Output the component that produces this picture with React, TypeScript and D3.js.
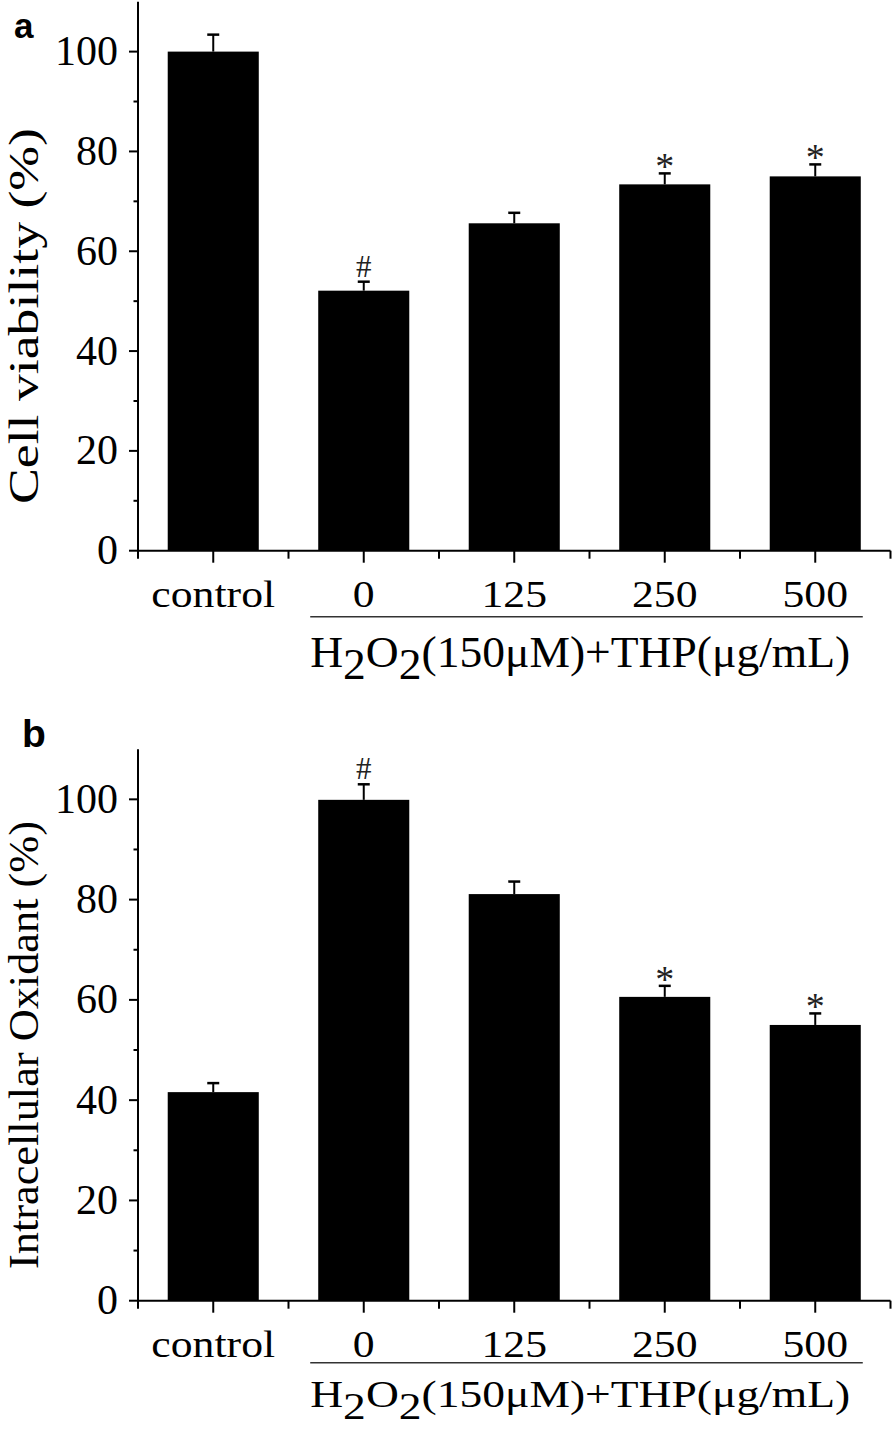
import React from 'react';
import * as d3 from 'd3';

const categories = ['control', '0', '125', '250', '500'];
const viabilityValues = [100, 52.1, 65.6, 73.4, 75.0];
const viabilityErrors = [3.4, 1.8, 2.1, 2.2, 2.4];
const viabilityMarks = ['', '#', '', '*', '*'];
const oxidantValues = [41.6, 99.9, 81.1, 60.6, 55.0];
const oxidantErrors = [1.8, 3.1, 2.5, 2.2, 2.3];
const oxidantMarks = ['', '#', '', '*', '*'];
const yMajorTicks = [0, 20, 40, 60, 80, 100];
const yMinorTicks = [10, 30, 50, 70, 90];
const yDomain: [number, number] = [0, 110];

const SERIF = '"Liberation Serif", "Times New Roman", serif';
const SANS = '"Liberation Sans", Arial, sans-serif';

type PanelProps = {
  letter: string;
  letterX: number;
  letterY: number;
  letterSize: number;
  yTop: number;
  yBottom: number;
  values: number[];
  errors: number[];
  marks: string[];
  yLabel: string;
  yLabelCenter: number;
  yLabelLength?: number;
  groupLineOffset: number;
  groupTextOffset: number;
  groupTextSize: number;
};

function Panel(p: PanelProps) {
  const x = d3.scalePoint<string>().domain(categories).range([138, 890.5]).padding(0.5);
  const step = x.step();
  const barW = step * 0.605;
  const y = d3.scaleLinear().domain(yDomain).range([p.yBottom, p.yTop]);
  const axisX = 138;
  const boundaries = d3.range(categories.length + 1).map((i) => 138 + i * step);
  const groupStart = (x('0') as number) - barW / 2 - 8;
  const groupEnd = (x('500') as number) + barW / 2 + 2;

  return (
    <g>
      <text x={p.letterX} y={p.letterY} fontFamily={SANS} fontWeight="bold" fontSize={p.letterSize}>
        {p.letter}
      </text>
      {categories.map((c, i) => (
        <rect
          key={'b' + c}
          x={(x(c) as number) - barW / 2}
          y={y(p.values[i])}
          width={barW}
          height={y(0) - y(p.values[i])}
          fill="#000"
        />
      ))}
      {categories.map((c, i) => {
        const cx = x(c) as number;
        const top = y(p.values[i] + p.errors[i]);
        return (
          <g key={'e' + c} stroke="#000">
            <line x1={cx} x2={cx} y1={y(p.values[i])} y2={top} strokeWidth={2} />
            <line x1={cx - 6} x2={cx + 6} y1={top} y2={top} strokeWidth={2.5} />
          </g>
        );
      })}
      {categories.map((c, i) =>
        p.marks[i] ? (
          <text
            key={'m' + c}
            x={x(c) as number}
            y={y(p.values[i] + p.errors[i]) + (p.marks[i] === '*' ? 6 : -5)}
            textAnchor="middle"
            fontFamily={SERIF}
            fontSize={p.marks[i] === '*' ? 38 : 31}
            fill="#222"
          >
            {p.marks[i]}
          </text>
        ) : null
      )}
      <line x1={axisX} x2={axisX} y1={p.yTop} y2={p.yBottom + 1} stroke="#000" strokeWidth={2} />
      {yMajorTicks.map((t) => (
        <g key={'yt' + t}>
          <line x1={axisX - 9} x2={axisX} y1={y(t)} y2={y(t)} stroke="#000" strokeWidth={2} />
          <text x={118} y={y(t) + 13.5} textAnchor="end" fontFamily={SERIF} fontSize={42}>
            {t}
          </text>
        </g>
      ))}
      {yMinorTicks.map((t) => (
        <line key={'ym' + t} x1={axisX - 4.5} x2={axisX} y1={y(t)} y2={y(t)} stroke="#000" strokeWidth={2} />
      ))}
      <line x1={axisX - 1} x2={890.5} y1={y(0)} y2={y(0)} stroke="#000" strokeWidth={2} />
      {boundaries.map((bx, i) => (
        <line key={'xm' + i} x1={bx} x2={bx} y1={y(0)} y2={y(0) + 8} stroke="#000" strokeWidth={2} />
      ))}
      {categories.map((c) => (
        <g key={'xt' + c}>
          <line x1={x(c) as number} x2={x(c) as number} y1={y(0)} y2={y(0) + 12} stroke="#000" strokeWidth={2} />
          <g transform={`translate(${x(c) as number},${y(0) + 56}) scale(1.15,1)`}>
            <text x={0} y={0} textAnchor="middle" fontFamily={SERIF} fontSize={38}>
              {c}
            </text>
          </g>
        </g>
      ))}
      <line
        x1={groupStart}
        x2={groupEnd}
        y1={y(0) + p.groupLineOffset}
        y2={y(0) + p.groupLineOffset}
        stroke="#333"
        strokeWidth={1.5}
      />
      <text
        x={groupStart}
        y={y(0) + p.groupTextOffset}
        fontFamily={SERIF}
        fontSize={p.groupTextSize}
        textLength={540}
        lengthAdjust="spacingAndGlyphs"
      >
        H<tspan dy={12}>2</tspan>
        <tspan dy={-12}>O</tspan>
        <tspan dy={12}>2</tspan>
        <tspan dy={-12}>(150μM)+THP(μg/mL)</tspan>
      </text>
      <text
        transform={`translate(38,${p.yLabelCenter}) rotate(-90)`}
        textAnchor="middle"
        fontFamily={SERIF}
        fontSize={42}
        {...(p.yLabelLength ? { textLength: p.yLabelLength, lengthAdjust: 'spacingAndGlyphs' } : {})}
      >
        {p.yLabel}
      </text>
    </g>
  );
}

export default function App() {
  return (
    <div style={{ position: 'absolute', left: 0, top: 0 }}>
      <svg width={894} height={1430} style={{ display: 'block', background: '#fff' }}>
        <rect x={0} y={0} width={894} height={1430} fill="#fff" />
        <Panel
          letter="a"
          letterX={14}
          letterY={38}
          letterSize={35}
          yTop={1.7}
          yBottom={550.7}
          values={viabilityValues}
          errors={viabilityErrors}
          marks={viabilityMarks}
          yLabel="Cell viability (%)"
          yLabelCenter={316}
          yLabelLength={376}
          groupLineOffset={66}
          groupTextOffset={116}
          groupTextSize={44}
        />
        <Panel
          letter="b"
          letterX={22}
          letterY={747}
          letterSize={39}
          yTop={749.2}
          yBottom={1300.7}
          values={oxidantValues}
          errors={oxidantErrors}
          marks={oxidantMarks}
          yLabel="Intracellular Oxidant (%)"
          yLabelCenter={1045}
          yLabelLength={448}
          groupLineOffset={62}
          groupTextOffset={106}
          groupTextSize={38}
        />
      </svg>
    </div>
  );
}
